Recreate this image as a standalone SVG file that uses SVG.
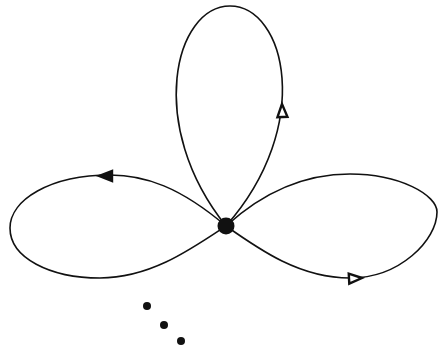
<svg xmlns="http://www.w3.org/2000/svg" width="439" height="350" viewBox="0 0 439 350">
<style>
.edge{fill:none;stroke:#111;stroke-width:1.6}
.ah{stroke:#111;stroke-width:2.4;stroke-linejoin:miter}
.filled{fill:#111}
.open{fill:#fff}
.dot{fill:#111}
</style>
<defs>
<path id="arr" d="M0,0 L-13,-5 L-13,5 Z"/>
</defs>
<rect width="439" height="350" fill="#fff"/>
<g id="connectors">
<path class="edge" d="M226,226 C315,125 285,6 230,6 C175,6 145,125 226,226"/>
<path class="edge" d="M226,226 C180,187 145,175 110,175 C50,175 10,200 10,228 C10,258 50,278 100,278 C150,278 190,250 226,226"/>
<path class="edge" d="M226,226 C260,195 300,174 350,174 C400,174 437,195 437,212 C437,240 400,278 350,278 C300,278 260,250 226,226"/>
<use href="#arr" class="ah open" transform="translate(282,104) rotate(-92)"/>
<use href="#arr" class="ah filled" transform="translate(99,176) rotate(180)"/>
<use href="#arr" class="ah open" transform="translate(362,278) rotate(-3)"/>
</g>
<g id="node-center">
<circle cx="226" cy="226" r="8.5" fill="#111"/>
</g>
<g id="ellipsis">
<circle class="dot" cx="147" cy="306" r="4"/>
<circle class="dot" cx="164" cy="325" r="4"/>
<circle class="dot" cx="181" cy="341" r="4"/>
</g>
</svg>
